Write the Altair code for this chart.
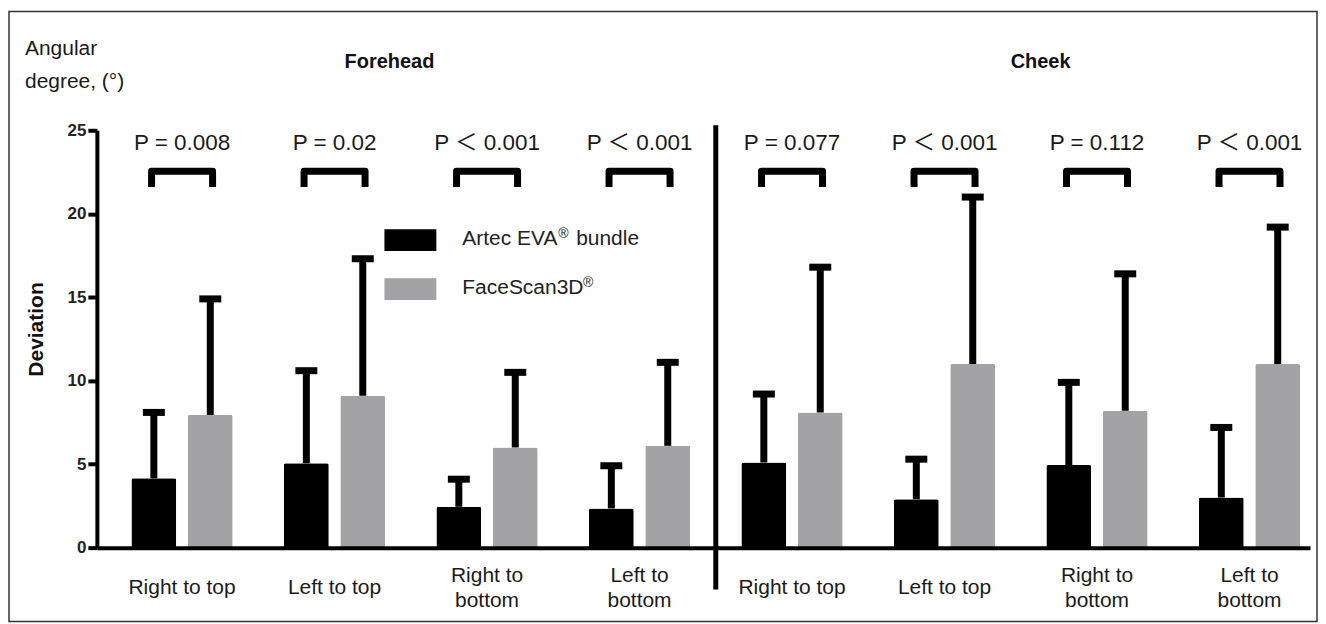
import altair as alt
import pandas as pd

# ---- data ----
regions = ["Forehead"] * 4 + ["Cheek"] * 4
directions = ["Right to top", "Left to top", "Right to\nbottom", "Left to\nbottom"] * 2
series = ["Artec EVA® bundle", "FaceScan3D®"]
artec_mean = [4.15, 5.05, 2.45, 2.35, 5.1, 2.9, 4.95, 3.0]
artec_upper = [8.1, 10.6, 4.1, 4.9, 9.2, 5.3, 9.9, 7.2]
face_mean = [7.95, 9.1, 6.0, 6.1, 8.1, 11.0, 8.2, 11.0]
face_upper = [14.9, 17.3, 10.5, 11.1, 16.8, 21.0, 16.4, 19.2]
p_labels = ["P = 0.008", "P = 0.02", "P ＜ 0.001", "P ＜ 0.001",
            "P = 0.077", "P ＜ 0.001", "P = 0.112", "P ＜ 0.001"]
y_ticks = [0, 5, 10, 15, 20, 25]

FONT = "Liberation Sans, Arial, Noto Sans CJK SC"
OFF = 0.185

rows = []
for i in range(8):
    rows.append(dict(g=i, series=series[0], mean=artec_mean[i], upper=artec_upper[i]))
    rows.append(dict(g=i, series=series[1], mean=face_mean[i], upper=face_upper[i]))
df = pd.DataFrame(rows)

groups = pd.DataFrame({"g": list(range(8)), "direction": directions,
                       "region": regions, "p": p_labels})

# bracket path points (from black centre to grey centre)
br_rows = []
for i in range(8):
    for k, (dx, yy) in enumerate([(-0.2, 21.6), (-0.2, 22.55), (0.2, 22.55), (0.2, 21.6)]):
        br_rows.append(dict(g=i, k=k, bx=i + dx, by=yy))
brackets = pd.DataFrame(br_rows)

xscale = alt.Scale(domain=[-0.526, 7.364], nice=False, zero=False)
yscale = alt.Scale(domain=[0, 25], nice=False)

xaxis = alt.Axis(domain=True, domainWidth=4, domainColor="black", ticks=False,
                 labels=False, grid=False, title=None, zindex=1)
yaxis = alt.Axis(values=y_ticks, domainWidth=4, domainColor="black", tickWidth=4,
                 tickSize=9, tickColor="black", labelFont=FONT, labelFontWeight="bold",
                 labelFontSize=17, labelColor="#222222", labelPadding=2, grid=False,
                 title="Deviation", titleFont=FONT, titleFontSize=21, titleFontWeight="bold",
                 titleColor="#111111", titleX=-60, titleY=199, titleAngle=270,
                 titleAlign="center", titleBaseline="middle", zindex=1)


def X(field):
    return alt.X(field, type="quantitative", scale=xscale, axis=xaxis)


def Y(field):
    return alt.Y(field, type="quantitative", scale=yscale, axis=yaxis)


base = alt.Chart(df).transform_calculate(
    x=f"datum.g + (datum.series == '{series[0]}' ? -{OFF} : {OFF})"
)

bars = base.mark_bar(width=45, cornerRadiusTopLeft=2, cornerRadiusTopRight=2).encode(
    x=X("x"),
    y=Y("mean"),
    color=alt.Color("series:N", scale=alt.Scale(domain=series, range=["#000000", "#a3a3a6"]),
                    legend=alt.Legend(title=None, orient="none", legendX=288, legendY=84,
                                      symbolType="M-1,-0.42L1,-0.42L1,0.42L-1,0.42Z",
                                      symbolSize=2704, symbolStrokeWidth=0,
                                      symbolOpacity=1, labelExpr="''", labelFontSize=21,
                                      labelOffset=25, rowPadding=12)),
)

# legend label text with superscript registered signs
LEG_X = 366
leg_main = pd.DataFrame({"t": ["Artec EVA", "bundle", "FaceScan3D"],
                         "lx": [LEG_X, LEG_X + 114, LEG_X],
                         "ly": [109, 109, 158]})
leg_sup = pd.DataFrame({"t": ["®", "®"], "lx": [LEG_X + 96, LEG_X + 121], "ly": [104, 153]})

legend_text = alt.Chart(leg_main).mark_text(font=FONT, fontSize=21, color="#222222",
                                            align="left", baseline="middle").encode(
    x=alt.X("lx:Q", scale=None), y=alt.Y("ly:Q", scale=None), text="t:N")
legend_sup = alt.Chart(leg_sup).mark_text(font=FONT, fontSize=14, color="#222222",
                                          align="left", baseline="middle").encode(
    x=alt.X("lx:Q", scale=None), y=alt.Y("ly:Q", scale=None), text="t:N")

stems = base.mark_rule(strokeWidth=7, color="black", opacity=1).encode(
    x=X("x"), y=Y("mean"), y2="upper:Q")

caps = base.mark_tick(orient="horizontal", size=22, thickness=7, color="black",
                      opacity=1).encode(x=X("x"), y=Y("upper"))

bracket_lines = alt.Chart(brackets).mark_line(strokeWidth=7, color="black",
                                              strokeJoin="round").encode(
    x=X("bx"), y=Y("by"), detail="g:N", order="k:Q")

ptext = alt.Chart(groups).mark_text(font=FONT, fontSize=22.5, color="#1a1a1a",
                                    baseline="middle").encode(
    x=X("g"), y=alt.value(13), text="p:N")

xlabels_one = alt.Chart(groups).transform_filter(
    "indexof(datum.direction, '\\n') < 0"
).mark_text(font=FONT, fontSize=21, color="#1a1a1a", baseline="middle").encode(
    x=X("g"), y=alt.value(458), text="direction:N")

xlabels_two = alt.Chart(groups).transform_filter(
    "indexof(datum.direction, '\\n') >= 0"
).mark_text(font=FONT, fontSize=21, color="#1a1a1a", baseline="middle",
            lineBreak="\n", lineHeight=25).encode(
    x=X("g"), y=alt.value(446), text="direction:N")

divider = alt.Chart(pd.DataFrame({"sep": [3.5]})).mark_rule(strokeWidth=5, color="black").encode(
    x=X("sep"), y=alt.value(-5), y2=alt.value(460))

titles_df = pd.DataFrame({"region": ["Forehead", "Cheek"], "cx": [1.36, 5.63]})
region_titles = alt.Chart(titles_df).mark_text(font=FONT, fontSize=20, fontWeight="bold",
                                               color="#111111", baseline="middle").encode(
    x=X("cx"), y=alt.value(-68), text="region:N")

unit_label = alt.Chart(pd.DataFrame({"t": ["Angular\ndegree, (°)"]})).mark_text(
    font=FONT, fontSize=21, color="#1a1a1a", align="left", baseline="middle",
    lineBreak="\n", lineHeight=33).encode(
    x=alt.value(-72), y=alt.value(-81), text="t:N")

frame = alt.Chart(pd.DataFrame({"a": [0]})).mark_rect(filled=False, stroke="#333333",
                                                       strokeWidth=1.5).encode(
    x=alt.value(-88), x2=alt.value(1222), y=alt.value(-119), y2=alt.value(492))

chart = alt.layer(
    frame, bars, stems, caps, bracket_lines, ptext, xlabels_one, xlabels_two,
    divider, region_titles, unit_label, legend_text, legend_sup
).properties(
    width=1215, height=418,
    padding={"left": 89, "top": 122, "right": 8, "bottom": 75},
    autosize=alt.AutoSizeParams(type="none"),
).configure(font=FONT, view=alt.ViewConfig(stroke=None))

chart.save("out.html", embed_options={"renderer": "svg", "actions": False})
